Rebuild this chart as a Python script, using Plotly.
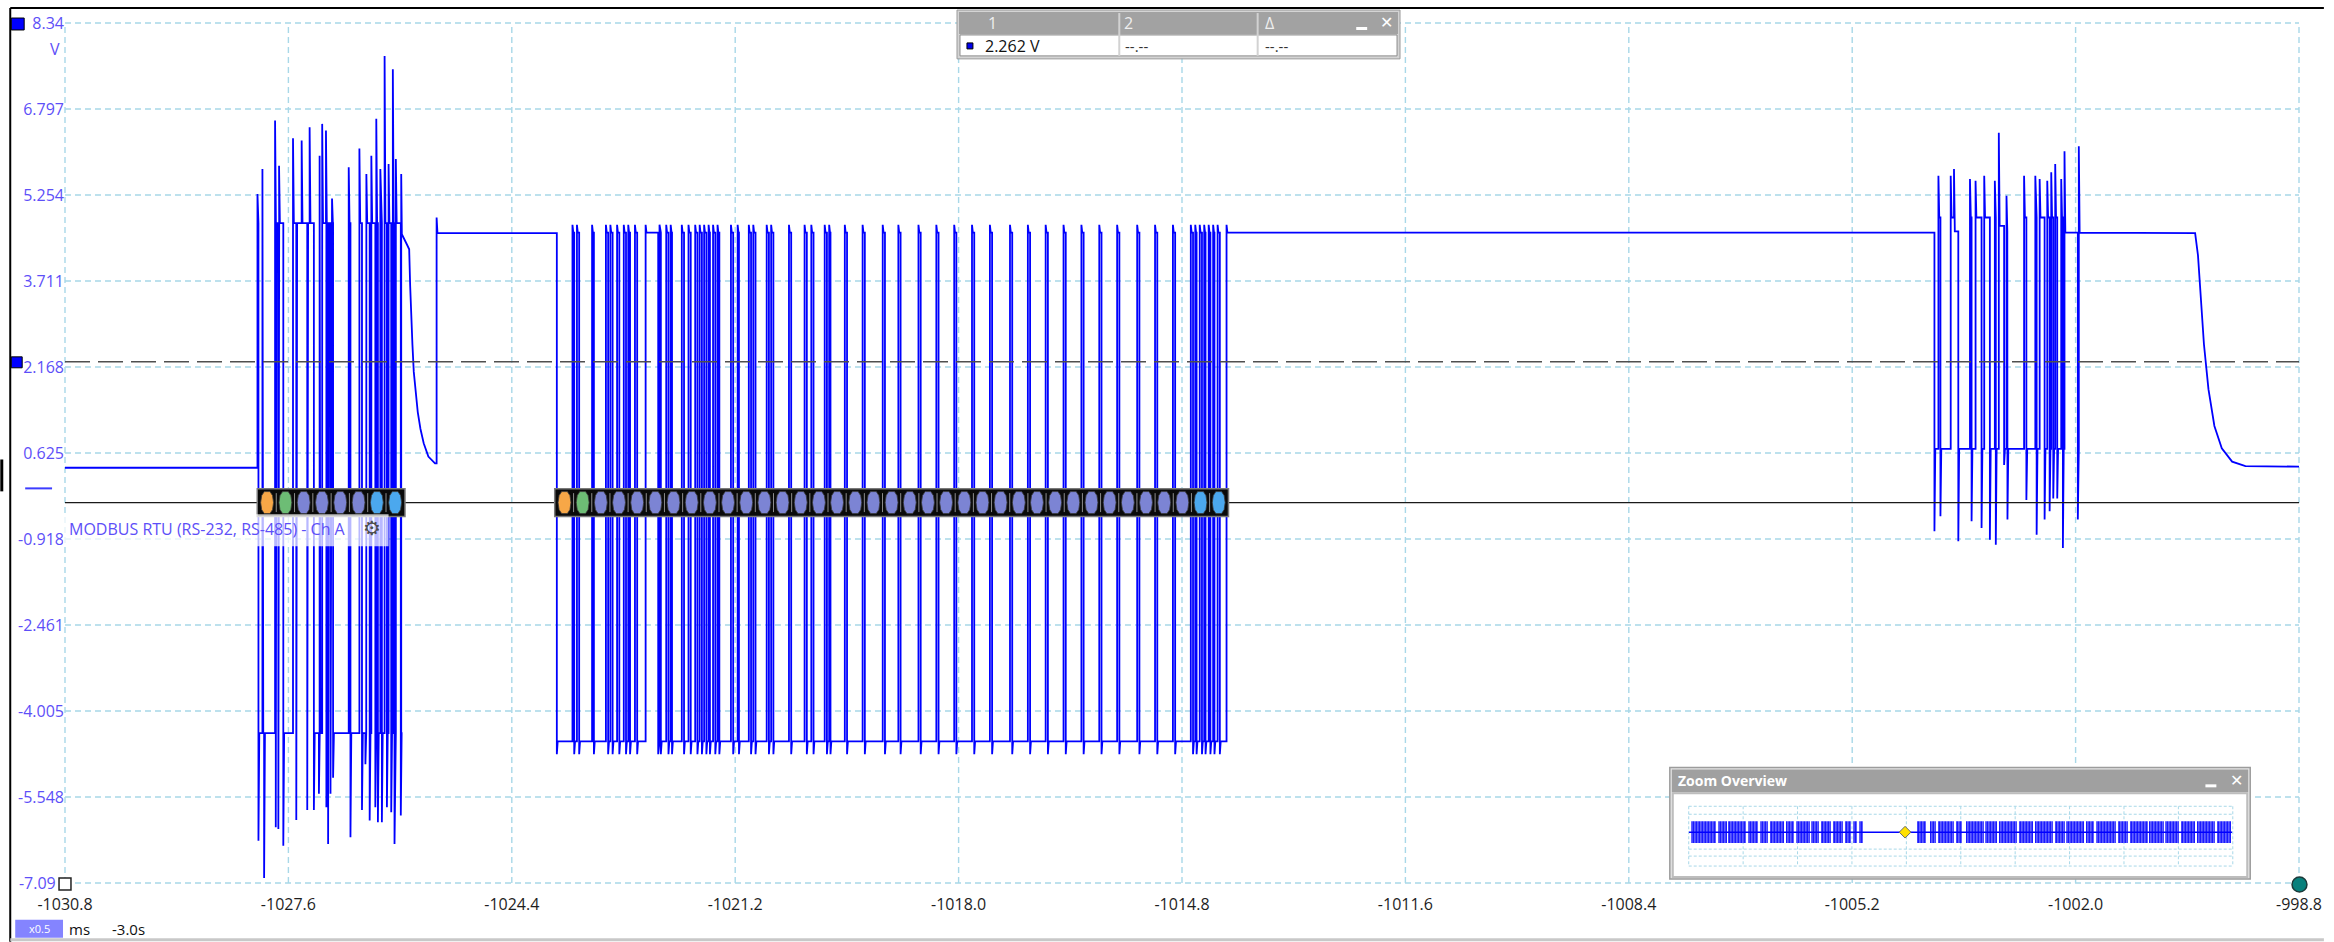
import plotly.graph_objects as go

# ------------------------------------------------------------------ data
x_ticks = [-1030.8, -1027.6, -1024.4, -1021.2, -1018.0, -1014.8,
           -1011.6, -1008.4, -1005.2, -1002.0, -998.8]
x_tick_text = ["-1030.8", "-1027.6", "-1024.4", "-1021.2", "-1018.0", "-1014.8",
               "-1011.6", "-1008.4", "-1005.2", "-1002.0", "-998.8"]
y_ticks = [8.34, 6.797, 5.254, 3.711, 2.168, 0.625, -0.918, -2.461, -4.005, -5.548, -7.09]
y_tick_text = ["8.34", "6.797", "5.254", "3.711", "2.168", "0.625", "-0.918",
               "-2.461", "-4.005", "-5.548", "-7.09\u00a0\u00a0"]

x_min, x_max = -1030.8, -998.8
y_min, y_max = -7.09, 8.34

ruler_v = 2.262          # horizontal ruler 1
bus_v = -0.265           # decoder bus row

# bus released before the request (ms, V)
idle_start = (-1030.8, 0.36)

# master request: (time ms, overshoot peak V, settled V)
burst_a_edges = [
    (-1028.043, 5.27, 4.75), (-1028.029, -6.33, -4.40), (-1027.972, 5.72, -4.40),
    (-1027.948, -7.00, -4.40), (-1027.791, 6.59, 4.75), (-1027.781, -6.09, 4.75),
    (-1027.744, -6.12, 4.75), (-1027.734, 5.78, 4.75), (-1027.673, -6.42, -4.40),
    (-1027.534, 6.27, 4.75), (-1027.487, -5.96, 4.75), (-1027.410, 6.23, 4.75),
    (-1027.330, -5.78, 4.75), (-1027.296, 6.47, 4.75), (-1027.235, -5.78, -4.40),
    (-1027.163, -5.49, -4.40), (-1027.153, 5.96, -4.40), (-1027.116, 6.53, 4.75),
    (-1027.062, 6.41, 4.75), (-1027.056, -5.73, 4.75), (-1027.031, -6.39, 4.75),
    (-1026.997, -5.49, 4.75), (-1026.975, 5.19, 4.75), (-1026.960, -5.20, -4.40),
    (-1026.736, 5.75, 4.75), (-1026.711, -6.27, -4.40), (-1026.583, 6.09, 4.75),
    (-1026.546, -5.78, -4.40), (-1026.497, -4.96, -4.40), (-1026.483, 5.63, 4.75),
    (-1026.436, -5.97, -4.40), (-1026.412, 5.96, 4.75), (-1026.355, -5.73, -4.40),
    (-1026.341, 6.62, 4.75), (-1026.318, -6.00, -4.40), (-1026.283, 5.72, 4.75),
    (-1026.261, -6.00, -4.40), (-1026.222, 7.75, 4.75), (-1026.189, -5.73, -4.40),
    (-1026.165, 5.81, 4.75), (-1026.127, -5.82, -4.40), (-1026.104, 7.51, 4.75),
    (-1026.080, -6.39, -4.40), (-1026.061, 5.90, 4.75), (-1025.990, -5.88, -4.40),
    (-1025.984, 5.63, 4.60),
]
# driver release after the request (ms, V)
decay_a = [(-1025.975, 4.55), (-1025.904, 4.37), (-1025.870, 4.28), (-1025.856, 3.63),
           (-1025.842, 3.03), (-1025.823, 2.56), (-1025.804, 2.08), (-1025.780, 1.72),
           (-1025.747, 1.36), (-1025.709, 1.06), (-1025.662, 0.80), (-1025.595, 0.56),
           (-1025.500, 0.44)]
# slave driver enable (ms, peak V, settled V)
slave_enable = (-1025.477, 4.85, 4.57)

# slave response: low level with narrow high pulses (start ms, end ms)
burst_b_high_v, burst_b_low_v = 4.58, -4.55
burst_b_start = -1023.755
burst_b_end = -1014.162
burst_b_pulses = [
    (-1023.531, -1023.506), (-1023.467, -1023.435), (-1023.250, -1023.224),
    (-1023.052, -1023.020), (-1022.988, -1022.956), (-1022.892, -1022.860),
    (-1022.796, -1022.764), (-1022.732, -1022.706), (-1022.636, -1022.604),
    (-1022.483, -1022.303), (-1022.284, -1022.265), (-1022.188, -1022.156),
    (-1022.124, -1022.105), (-1021.965, -1021.933), (-1021.869, -1021.837),
    (-1021.773, -1021.741), (-1021.709, -1021.677), (-1021.645, -1021.613),
    (-1021.581, -1021.562), (-1021.517, -1021.485), (-1021.453, -1021.427),
    (-1021.261, -1021.229), (-1021.165, -1021.146), (-1021.005, -1020.973),
    (-1020.941, -1020.909), (-1020.749, -1020.717), (-1020.685, -1020.653),
    (-1020.430, -1020.398), (-1020.206, -1020.174), (-1020.110, -1020.078),
    (-1019.918, -1019.886), (-1019.854, -1019.835), (-1019.630, -1019.598),
    (-1019.375, -1019.343), (-1019.087, -1019.055), (-1018.863, -1018.831),
    (-1018.575, -1018.543), (-1018.319, -1018.287), (-1018.063, -1018.032),
    (-1017.808, -1017.776), (-1017.552, -1017.520), (-1017.264, -1017.232),
    (-1017.008, -1016.976), (-1016.753, -1016.721), (-1016.497, -1016.465),
    (-1016.241, -1016.209), (-1015.985, -1015.953), (-1015.729, -1015.697),
    (-1015.442, -1015.410), (-1015.186, -1015.154), (-1014.930, -1014.898),
    (-1014.674, -1014.642), (-1014.610, -1014.591), (-1014.546, -1014.514),
    (-1014.482, -1014.463), (-1014.418, -1014.393), (-1014.354, -1014.335),
    (-1014.290, -1014.258),
]

# next request on the line: (time ms, overshoot peak V, settled V)
burst_c_edges = [
    (-1004.022, -0.78, 0.70), (-1003.965, 5.60, 4.85), (-1003.936, -0.51, 0.70),
    (-1003.789, 5.60, 4.85), (-1003.742, 5.72, 4.60), (-1003.680, -0.96, 0.70),
    (-1003.513, 5.54, 4.85), (-1003.490, -0.60, 0.70), (-1003.433, 5.51, 4.85),
    (-1003.347, -0.72, 0.70), (-1003.309, 5.60, 4.85), (-1003.228, -0.93, 0.70),
    (-1003.157, 5.51, 4.85), (-1003.143, -1.02, 0.70), (-1003.100, 6.37, 4.70),
    (-1003.024, 0.41, 0.70), (-1002.990, 5.24, 4.60), (-1002.976, -0.57, 0.70),
    (-1002.738, 5.60, 4.85), (-1002.705, -0.22, 0.70), (-1002.577, 5.60, 4.85),
    (-1002.558, -0.84, 0.70), (-1002.515, 5.54, 4.85), (-1002.444, -0.57, 0.70),
    (-1002.406, 5.51, 4.85), (-1002.372, -0.42, 0.70), (-1002.349, 5.66, 4.85),
    (-1002.320, -0.19, 0.70), (-1002.292, 5.81, 4.85), (-1002.263, -0.19, 0.70),
    (-1002.206, 5.54, 4.85), (-1002.182, -1.08, 0.70), (-1002.159, 6.04, 4.58),
    (-1001.968, -0.57, 0.70), (-1001.954, 6.13, 4.58),
]
decay_c = [(-1000.288, 4.57), (-1000.247, 4.17), (-1000.204, 3.37), (-1000.162, 2.58),
           (-1000.097, 1.77), (-1000.012, 1.11), (-999.906, 0.71), (-999.758, 0.47),
           (-999.567, 0.39)]
idle_end = (-998.8, 0.38)

# decoded MODBUS frames (centre of first frame, frame period, field types)
pkt_a_first, pkt_a_period = -1027.905, 0.262
pkt_a_fields = ["addr", "func", "data", "data", "data", "data", "crc", "crc"]
pkt_b_first, pkt_b_period = -1023.645, 0.2603
pkt_b_fields = ["addr", "func"] + ["data"] * 33 + ["crc", "crc"]
field_colors = {"addr": "#f7a747", "func": "#6dbd75", "data": "#7c84d4", "crc": "#4ba8ee"}

# zoom overview: activity blocks across the whole capture (percent of capture)
overview_blocks = [
    (0.3, 5.0), (5.4, 6.9), (7.2, 10.5), (10.9, 12.7), (13.1, 14.5), (14.9, 17.4),
    (17.8, 19.3), (19.6, 22.2), (22.5, 24.0), (24.3, 26.2), (26.5, 28.3), (28.7, 29.8),
    (30.2, 30.9), (31.2, 32.0),
    (42.0, 43.6), (44.3, 45.4), (45.8, 48.7), (49.1, 50.2), (50.9, 54.2), (54.5, 56.7),
    (57.1, 60.3), (60.7, 63.2), (63.6, 66.9), (67.3, 69.1), (69.4, 72.7), (73.1, 74.5),
    (74.9, 78.5), (78.9, 80.7), (81.1, 84.4), (84.7, 87.3), (87.6, 90.2), (90.5, 93.1),
    (93.4, 96.7), (97.1, 99.8),
]
overview_view_pos = 39.8

# ------------------------------------------------------------------ waveform
wx, wy = [idle_start[0]], [idle_start[1]]
level = idle_start[1]


def edge(t, peak, settle):
    global level
    wx.extend([t, t, t + 0.012])
    wy.extend([level, peak, settle])
    level = settle


def points(seq):
    global level
    for t, v in seq:
        wx.append(t)
        wy.append(v)
        level = v


for e in burst_a_edges:
    edge(*e)
points(decay_a)
edge(*slave_enable)
edge(burst_b_start, -4.78, burst_b_low_v)
for s, e in burst_b_pulses:
    edge(s, 4.72, burst_b_high_v)
    edge(e, -4.78, burst_b_low_v)
edge(burst_b_end, 4.72, burst_b_high_v)
for e in burst_c_edges:
    edge(*e)
points(decay_c)
points([idle_end])

# ------------------------------------------------------------------ geometry helpers
W, H = 2334, 942
PL, PT, PR, PB = 65, 20, 25, 59
PW, PH = W - PL - PR, H - PT - PB


def fx(px):
    return (px - PL) / PW


def fy(py):
    return (PT + PH - py) / PH


def tx(t):
    return (t - x_min) / (x_max - x_min)


def vy(v):
    return (v - y_min) / (y_max - y_min)


LABEL = "#5d4ff8"
GRID = "#a8d8e8"
FONT = "Open Sans"

shapes = []
ann = []


def prect(x0, y0, x1, y1, fill, line=None, lw=0, layer="above"):
    shapes.append(dict(type="rect", xref="paper", yref="paper",
                       x0=fx(x0), x1=fx(x1), y0=fy(y1), y1=fy(y0),
                       fillcolor=fill, line=dict(color=line or fill, width=lw), layer=layer))


def pline(x0, y0, x1, y1, color, lw, dash="solid", layer="above"):
    shapes.append(dict(type="line", xref="paper", yref="paper",
                       x0=fx(x0), x1=fx(x1), y0=fy(y0), y1=fy(y1),
                       line=dict(color=color, width=lw, dash=dash), layer=layer))


def text(x, y, s, size=15, color="#111", xanchor="left", bold=False, family=FONT):
    ann.append(dict(xref="paper", yref="paper", x=fx(x), y=fy(y), text=f"<b>{s}</b>" if bold else s,
                    showarrow=False, xanchor=xanchor, yanchor="middle",
                    font=dict(family=family, size=size, color=color)))


# grid (lower layer so the overview panel can cover it)
for t in x_ticks:
    shapes.append(dict(type="line", xref="paper", yref="paper", x0=tx(t), x1=tx(t), y0=0, y1=1,
                       line=dict(color=GRID, width=1.4, dash="6px,4px"), layer="below"))
for v in y_ticks:
    shapes.append(dict(type="line", xref="paper", yref="paper", x0=0, x1=1, y0=vy(v), y1=vy(v),
                       line=dict(color=GRID, width=1.4, dash="6px,4px"), layer="below"))

# zoom overview panel
prect(1677, 767, 2260, 879, "#e6e6e6", "#9c9c9c", 1.5, layer="below")
prect(1679, 769, 2258, 792, "#a0a0a0", layer="below")
prect(1680, 793, 2257, 877, "white", "#bdbdbd", 2, layer="below")
for yy in [806, 814, 849, 856, 866]:
    pline(1696, yy, 2242, yy, GRID, 1, "3px,2px", layer="below")
for k in range(11):
    xx = 1696 + k * 54.65
    pline(xx, 806, xx, 866, GRID, 1, "3px,2px", layer="below")
prect(2215, 784, 2226, 787, "white", layer="below")
text(1683, 780, "Zoom Overview", 14, "#ffffff", bold=True)
text(2246, 780, "\u2715", 16, "#ffffff", "center", family="DejaVu Sans")

# ruler and decoder bus
shapes.append(dict(type="line", xref="paper", yref="y", x0=0, x1=1, y0=ruler_v, y1=ruler_v,
                   line=dict(color="#4f4f4f", width=1.5, dash="25px,8px"), layer="above"))
shapes.append(dict(type="line", xref="paper", yref="y", x0=0, x1=1, y0=bus_v, y1=bus_v,
                   line=dict(color="#1a1a1a", width=1.3), layer="above"))

band_half = 0.25
oval_w, oval_h = 0.185, 0.395
hexagon = [(-0.5, 0), (-0.42, 0.32), (-0.22, 0.5), (0.22, 0.5), (0.42, 0.32), (0.5, 0),
           (0.42, -0.32), (0.22, -0.5), (-0.22, -0.5), (-0.42, -0.32)]
for first, period, fields in [(pkt_a_first, pkt_a_period, pkt_a_fields),
                              (pkt_b_first, pkt_b_period, pkt_b_fields)]:
    centers = [first + i * period for i in range(len(fields))]
    shapes.append(dict(type="rect", xref="x", yref="y",
                       x0=centers[0] - period / 2 - 0.01, x1=centers[-1] + period / 2 + 0.01,
                       y0=bus_v - band_half, y1=bus_v + band_half,
                       fillcolor="#0a0a0a", line=dict(color="#7a7a7a", width=1.5), layer="above"))
    for c, f in zip(centers, fields):
        path = "M " + " L ".join(f"{c + dx * oval_w},{bus_v + dy * oval_h}" for dx, dy in hexagon) + " Z"
        shapes.append(dict(type="path", xref="x", yref="y", path=path,
                           fillcolor=field_colors[f], line=dict(color="#3a3a3a", width=0.8),
                           layer="above"))
    for c in centers[1:]:
        b = c - period / 2
        shapes.append(dict(type="line", xref="x", yref="y", x0=b, x1=b,
                           y0=bus_v - 0.17, y1=bus_v + 0.17,
                           line=dict(color="#8e8e8e", width=1), layer="above"))

# decoder label
prect(63, 513, 390, 545, "rgba(255,255,255,0.72)")
text(67, 528, "MODBUS RTU (RS-232, RS-485) - Ch A", 16, LABEL)
text(373, 527, "\u2699", 20, "#4c4c4c", "center", family="DejaVu Sans")

# measurement table
prect(961, 7, 1406, 56, "#d4d4d4", "#9a9a9a", 1)
prect(963, 9, 1404, 31, "#a2a2a2")
prect(964, 32, 1403, 53, "white", "#8c8c8c", 1)
for xx in [1124, 1263]:
    pline(xx, 10, xx, 53, "#d2d2d2", 2)
prect(971, 40, 977, 46, "#0000ee", "#000000", 1)
prect(1362, 24, 1373, 27, "white")
text(997, 20, "1", 16, "#efefef", "center")
text(1133, 20, "2", 16, "#efefef", "center")
text(1275, 20, "\u0394", 16, "#efefef", "center")
text(1392, 19, "\u2715", 16, "#ffffff", "center", family="DejaVu Sans")
text(987, 43, "2.262 V", 16, "#111111")
text(1128, 43, "--.--", 15, "#333333")
text(1268, 43, "--.--", 15, "#333333")

# channel markers
prect(11, 15, 24, 27, "#0000ff", "#000000", 1)
text(62, 46, "V", 16, LABEL, "right")
prect(11, 355, 22, 366, "#0000ff", "#000000", 1)
pline(25, 487, 52, 487, "#3c3cff", 2)
prect(0, 458, 3, 490, "#000000")
prect(59, 878, 71, 890, "white", "#222222", 1.5)
shapes.append(dict(type="circle", xref="paper", yref="paper", x0=fx(2302), x1=fx(2317),
                   y0=fy(892), y1=fy(877), fillcolor="#08807c",
                   line=dict(color="#1c3a3a", width=1.5), layer="above"))

# status bar
prect(15, 920, 63, 938, "#8484ff")
text(39, 929, "x0.5", 11, "#ffffff", "center")
text(67, 929, "ms", 15, "#111111")
text(110, 929, "-3.0s", 15, "#111111")

# window frame
pline(10, 5, W, 5, "#000000", 2)
pline(10, 5, 10, H, "#000000", 2)
pline(10, 940, W, 940, "#c8c8c8", 3)

# ------------------------------------------------------------------ figure
fig = go.Figure()
fig.add_trace(go.Scatter(x=wx, y=wy, mode="lines", line=dict(color="#0000ff", width=1.8),
                         hoverinfo="skip", showlegend=False))

ov_x = [(a + b) / 2 for a, b in overview_blocks]
ov_w = [b - a for a, b in overview_blocks]
fig.add_trace(go.Bar(x=ov_x, y=[2] * len(ov_x), base=[-1] * len(ov_x), width=ov_w,
                     xaxis="x2", yaxis="y2", hoverinfo="skip", showlegend=False,
                     marker=dict(color="white", line=dict(width=0),
                                 pattern=dict(shape="|", fgcolor="#0000ff", bgcolor="white",
                                              fgopacity=1, size=3, solidity=0.75))))
fig.add_trace(go.Scatter(x=[0, 100], y=[0, 0], mode="lines", xaxis="x2", yaxis="y2",
                         line=dict(color="#0000ff", width=1.5), hoverinfo="skip", showlegend=False))
fig.add_trace(go.Scatter(x=[overview_view_pos], y=[0], mode="markers", xaxis="x2", yaxis="y2",
                         marker=dict(symbol="diamond", size=9, color="#ffe100",
                                     line=dict(color="#6a6a6a", width=1)),
                         hoverinfo="skip", showlegend=False))

fig.update_layout(
    width=W, height=H,
    margin=dict(l=PL, r=PR, t=PT, b=PB, pad=0),
    paper_bgcolor="white", plot_bgcolor="rgba(0,0,0,0)",
    showlegend=False,
    xaxis=dict(range=[x_min, x_max], tickmode="array", tickvals=x_ticks, ticktext=x_tick_text,
               showgrid=False, zeroline=False, showline=False, ticks="",
               ticklabelstandoff=10,
               tickfont=dict(family=FONT, size=16, color="#1e1e1e"), fixedrange=True),
    yaxis=dict(range=[y_min, y_max], tickmode="array", tickvals=y_ticks, ticktext=y_tick_text,
               showgrid=False, zeroline=False, showline=False, ticks="",
               tickfont=dict(family=FONT, size=16, color=LABEL), fixedrange=True),
    xaxis2=dict(domain=[fx(1696), fx(2242)], range=[0, 100], visible=False, anchor="y2",
                fixedrange=True),
    yaxis2=dict(domain=[fy(843), fy(821)], range=[-1, 1], visible=False, anchor="x2",
                fixedrange=True),
    bargap=0,
    shapes=shapes,
    annotations=ann,
)

fig.write_html("out.html")
